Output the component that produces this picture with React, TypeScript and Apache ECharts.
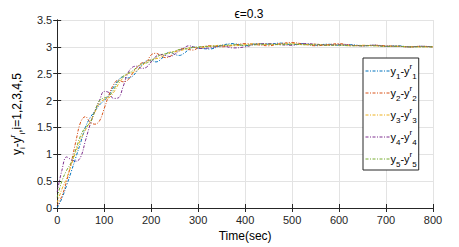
import React, { useEffect, useRef } from "react";
import * as echarts from "echarts";

const times = [0,10,20,30,40,50,60,70,80,90,100,110,120,130,140,150,160,170,180,190,200,210,220,230,240,250,260,270,280,290,300,325,350,375,400,425,450,475,500,525,550,575,600,625,650,675,700,725,750,775,800];

const y1 = [0,0.18,0.42,0.68,0.95,1.22,1.5,1.68,1.8,1.92,2.0,2.1,2.25,2.38,2.44,2.42,2.45,2.55,2.66,2.74,2.75,2.72,2.76,2.86,2.9,2.86,2.84,2.88,2.95,3.0,2.98,2.96,3.03,3.06,3.02,3.06,3.05,3.07,3.04,3.06,3.03,3.05,3.03,3.04,3.02,3.03,3.01,3.02,3.0,3.01,3.0];
const y2 = [0.05,0.22,0.5,0.85,1.25,1.6,1.7,1.6,1.56,1.62,1.85,2.1,2.3,2.38,2.35,2.38,2.5,2.62,2.7,2.72,2.85,2.88,2.84,2.8,2.82,2.9,2.95,2.97,2.95,2.94,2.98,3.02,3.0,3.03,3.06,3.04,3.02,3.06,3.08,3.05,3.02,3.04,3.06,3.03,3.02,3.03,3.02,3.01,3.0,3.01,3.0];
const y3 = [0.1,0.35,0.55,0.8,1.05,1.28,1.45,1.6,1.78,1.95,2.02,2.05,2.15,2.3,2.42,2.5,2.52,2.56,2.64,2.72,2.76,2.78,2.8,2.86,2.9,2.91,2.92,2.95,2.98,2.99,2.98,3.01,3.03,3.02,3.04,3.06,3.04,3.05,3.06,3.04,3.05,3.03,3.04,3.02,3.03,3.02,3.01,3.01,3.0,3.0,3.0];
const y4 = [0.3,0.7,0.95,0.9,0.87,0.95,1.25,1.55,1.8,2.0,2.17,2.15,2.04,2.05,2.25,2.5,2.62,2.64,2.6,2.62,2.72,2.82,2.86,2.84,2.82,2.86,2.93,2.98,3.02,3.0,2.97,2.98,3.02,2.98,3.0,3.05,3.06,3.04,3.03,3.06,3.05,3.03,3.04,3.03,3.02,3.03,3.01,3.01,3.0,3.01,3.0];
const y5 = [0.2,0.5,0.7,0.85,1.1,1.35,1.5,1.58,1.8,2.0,2.05,2.08,2.2,2.35,2.45,2.5,2.55,2.62,2.68,2.7,2.74,2.8,2.85,2.87,2.88,2.92,2.95,2.96,2.97,2.99,3.0,3.01,3.02,3.04,3.03,3.04,3.05,3.04,3.05,3.04,3.04,3.03,3.03,3.02,3.02,3.02,3.01,3.01,3.0,3.0,3.0];

const seriesData = [y1, y2, y3, y4, y5];
const seriesNames = ["1", "2", "3", "4", "5"];
const colors = ["#0072BD", "#D95319", "#EDB120", "#7E2F8E", "#77AC30"];
const xTicks = [0, 100, 200, 300, 400, 500, 600, 700, 800];
const yTicks = [0, 0.5, 1, 1.5, 2, 2.5, 3, 3.5];
const titleText = "\u03F5=0.3";
const xName = "Time(sec)";

export default function App() {
  const ref = useRef<HTMLDivElement>(null);
  useEffect(() => {
    if (!ref.current) return;
    const chart = echarts.init(ref.current, undefined, { renderer: "svg" });
    const font = "Liberation Sans";
    const axisColor = "#262626";
    const gridColor = "#e3e3e3";
    const baseAxis = {
      axisLine: { show: true, lineStyle: { color: axisColor, width: 1 } },
      axisTick: { show: true, inside: true, length: 4, lineStyle: { color: axisColor } },
      axisLabel: { color: "#262626", fontFamily: font, fontSize: 11 },
    };
    chart.setOption({
      animation: false,
      color: colors,
      title: {
        text: titleText,
        left: 244,
        textAlign: "center",
        top: 3,
        textStyle: { fontFamily: font, fontSize: 12, fontWeight: "normal", color: "#000" },
      },
      grid: { left: 56, right: 26, top: 20, bottom: 38, containLabel: false },
      legend: {
        orient: "vertical",
        left: 363,
        top: 58,
        width: 54,
        padding: [4, 2, 2, 2],
        itemGap: 4,
        itemWidth: 24,
        itemHeight: 10,
        borderColor: "#262626",
        borderWidth: 1,
        backgroundColor: "#fff",
        data: seriesNames,
        itemStyle: { opacity: 0 },
        lineStyle: { width: 1, inactiveWidth: 1 },
        formatter: (n: string) => `{a|y}{s|${n}}{a|-y}{p|r}{s|${n}}`,
        textStyle: {
          fontFamily: font,
          fontSize: 11,
          color: "#000",
          padding: [0, 0, 0, -4],
          rich: {
            a: { fontFamily: font, fontSize: 11, color: "#000", lineHeight: 18, verticalAlign: "middle" },
            s: { fontFamily: font, fontSize: 8, color: "#000", lineHeight: 18, verticalAlign: "bottom" },
            p: { fontFamily: font, fontSize: 8, color: "#000", lineHeight: 18, verticalAlign: "top" },
          },
        },
      },
      xAxis: [
        {
          ...baseAxis,
          type: "value",
          min: 0,
          max: 800,
          interval: 100,
          name: xName,
          nameLocation: "middle",
          nameGap: 22,
          nameTextStyle: { fontFamily: font, fontSize: 12, color: "#000" },
          splitLine: { show: true, lineStyle: { color: gridColor, width: 1 } },
          axisLabel: { ...baseAxis.axisLabel, margin: 6, customValues: xTicks },
        },
        {
          ...baseAxis,
          type: "value",
          position: "top",
          min: 0,
          max: 800,
          interval: 100,
          axisLabel: { show: false },
          splitLine: { show: false },
        },
      ],
      yAxis: [
        {
          ...baseAxis,
          type: "value",
          min: 0,
          max: 3.5,
          interval: 0.5,
          name: "{a|y}{s|i}{a|-y}{p|r}{s|i}{a|,i=1,2,3,4,5}",
          nameLocation: "middle",
          nameGap: 24,
          nameRotate: 90,
          nameTextStyle: {
            fontFamily: font,
            fontSize: 12,
            color: "#000",
            rich: {
              a: { fontFamily: font, fontSize: 12, color: "#000", lineHeight: 18, verticalAlign: "middle" },
              s: { fontFamily: font, fontSize: 8, color: "#000", lineHeight: 18, verticalAlign: "bottom" },
              p: { fontFamily: font, fontSize: 8, color: "#000", lineHeight: 18, verticalAlign: "top" },
            },
          },
          splitLine: { show: true, lineStyle: { color: gridColor, width: 1 } },
          axisLabel: { ...baseAxis.axisLabel, margin: 5, customValues: yTicks },
        },
        {
          ...baseAxis,
          type: "value",
          position: "right",
          min: 0,
          max: 3.5,
          interval: 0.5,
          axisLabel: { show: false },
          splitLine: { show: false },
        },
      ],
      series: seriesData.map((d, i) => ({
        name: seriesNames[i],
        type: "line",
        xAxisIndex: 0,
        yAxisIndex: 0,
        smooth: 0.4,
        symbol: "none",
        data: times.map((t, k) => [t, d[k]]),
        lineStyle: { width: 1, color: colors[i], type: [3, 1.5, 1, 1.5] },
        itemStyle: { color: colors[i] },
      })),
    });
    return () => chart.dispose();
  }, []);
  return <div ref={ref} style={{ width: 459, height: 247, position: "absolute", left: 0, top: 0 }} />;
}
